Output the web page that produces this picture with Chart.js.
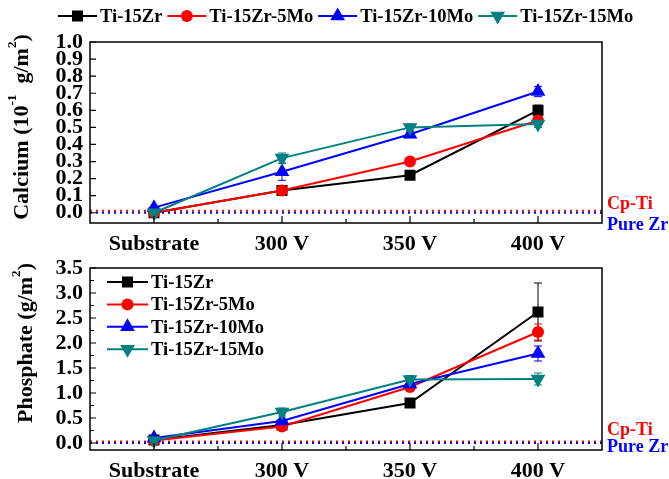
<!DOCTYPE html>
<html><head><meta charset="utf-8">
<script src="https://cdn.jsdelivr.net/npm/chart.js@4/dist/chart.umd.min.js"></script>
<style>
body{margin:0;background:#fff;width:669px;height:479px;overflow:hidden;position:relative}
#c1{position:absolute;left:0;top:0}
#c2{position:absolute;left:0;top:250px}
</style>
</head><body>
<canvas id="c1" width="669" height="250"></canvas>
<canvas id="c2" width="669" height="229"></canvas>
<script>
// ---------- data ----------
const categories = ['Substrate', '300 V', '350 V', '400 V'];
const seriesNames = ['Ti-15Zr', 'Ti-15Zr-5Mo', 'Ti-15Zr-10Mo', 'Ti-15Zr-15Mo'];

const calciumTi15Zr   = [0.00, 0.13, 0.22, 0.60];
const calcium5Mo      = [0.00, 0.13, 0.30, 0.54];
const calcium10Mo     = [0.03, 0.24, 0.46, 0.71];
const calcium15Mo     = [0.00, 0.32, 0.50, 0.52];
const calciumErrTi15Zr = [0.01, 0.01, 0.01, 0.03];
const calciumErr5Mo    = [0.01, 0.02, 0.01, 0.02];
const calciumErr10Mo   = [0.01, 0.05, 0.02, 0.03];
const calciumErr15Mo   = [0.01, 0.03, 0.02, 0.02];
const calciumTicks = [0.0, 0.1, 0.2, 0.3, 0.4, 0.5, 0.6, 0.7, 0.8, 0.9, 1.0];
const calciumRefCpTi = 0.012;
const calciumRefPureZr = 0.0;

const phosphateTi15Zr = [0.06, 0.36, 0.80, 2.62];
const phosphate5Mo    = [0.05, 0.33, 1.12, 2.22];
const phosphate10Mo   = [0.10, 0.44, 1.18, 1.79];
const phosphate15Mo   = [0.05, 0.62, 1.27, 1.28];
const phosphateErrTi15Zr = [0.02, 0.03, 0.05, 0.58];
const phosphateErr5Mo    = [0.03, 0.04, 0.05, 0.16];
const phosphateErr10Mo   = [0.03, 0.04, 0.05, 0.15];
const phosphateErr15Mo   = [0.02, 0.08, 0.08, 0.12];
const phosphateTicks = [0.0, 0.5, 1.0, 1.5, 2.0, 2.5, 3.0, 3.5];
const phosphateRefCpTi = 0.03;
const phosphateRefPureZr = 0.0;

// ---------- styles ----------
const FONT = "'Liberation Serif','Times New Roman',serif";
Chart.defaults.font.family = FONT;
Chart.defaults.font.weight = 'bold';
Chart.defaults.color = '#000';
const colors = ['#000000', '#ff0000', '#0000ff', '#008080'];
const markerKinds = ['rect', 'circle', 'triangle', 'triangleDown'];

function drawMarker(ctx, kind, x, y, color) {
  ctx.fillStyle = color;
  ctx.beginPath();
  if (kind === 'rect') ctx.rect(x - 5.5, y - 5.5, 11, 11);
  else if (kind === 'circle') ctx.arc(x, y, 6, 0, Math.PI * 2);
  else if (kind === 'triangle') { const r = 8.5; ctx.moveTo(x, y - r); ctx.lineTo(x + r * 0.866, y + r * 0.5); ctx.lineTo(x - r * 0.866, y + r * 0.5); ctx.closePath(); }
  else { const r = 8.5; ctx.moveTo(x, y + r); ctx.lineTo(x + r * 0.866, y - r * 0.5); ctx.lineTo(x - r * 0.866, y - r * 0.5); ctx.closePath(); }
  ctx.fill();
}

function richText(ctx, parts, cx, cy, rot, size) {
  ctx.save();
  ctx.translate(cx, cy);
  ctx.rotate(rot);
  let total = 0;
  parts.forEach(p => { ctx.font = 'bold ' + (p.sup ? size * 0.6 : size) + 'px ' + FONT; p.w = ctx.measureText(p.t).width; total += p.w; });
  let x = -total / 2;
  ctx.textBaseline = 'middle';
  ctx.textAlign = 'left';
  ctx.fillStyle = '#000';
  parts.forEach(p => {
    ctx.font = 'bold ' + (p.sup ? size * 0.6 : size) + 'px ' + FONT;
    ctx.fillText(p.t, x, p.sup ? -size * 0.42 : 0);
    x += p.w;
  });
  ctx.restore();
}

const deco = {
  id: 'deco',
  beforeDatasetsDraw(chart, args, o) {
    const { ctx, chartArea: a } = chart;
    const y = chart.scales.y;
    ctx.save();
    // reference lines
    o.refs.forEach(r => {
      const py = y.getPixelForValue(r.value);
      ctx.strokeStyle = r.color; ctx.lineWidth = 2; ctx.setLineDash([2, 4]);
      ctx.beginPath(); ctx.moveTo(a.left, py); ctx.lineTo(a.right, py); ctx.stroke();
    });
    ctx.setLineDash([]);
    // error bars
    chart.data.datasets.forEach((ds, i) => {
      const meta = chart.getDatasetMeta(i);
      ctx.strokeStyle = ds.borderColor; ctx.lineWidth = 1;
      ds.errors.forEach((e, j) => {
        const px = meta.data[j].x, v = ds.data[j];
        const t = y.getPixelForValue(v + e), b = y.getPixelForValue(v - e);
        ctx.beginPath();
        ctx.moveTo(px, t); ctx.lineTo(px, b);
        ctx.moveTo(px - 4, t); ctx.lineTo(px + 4, t);
        ctx.moveTo(px - 4, b); ctx.lineTo(px + 4, b);
        ctx.stroke();
      });
    });
    ctx.restore();
  },
  afterDraw(chart, args, o) {
    const { ctx, chartArea: a } = chart;
    const x = chart.scales.x, y = chart.scales.y;
    ctx.save();
    // frame
    ctx.strokeStyle = '#000'; ctx.lineWidth = 1.5;
    ctx.strokeRect(a.left, a.top, a.right - a.left, a.bottom - a.top);
    ctx.lineWidth = 1.2;
    ctx.beginPath();
    // y ticks
    o.yTicks.forEach(v => { const py = y.getPixelForValue(v); ctx.moveTo(a.left, py); ctx.lineTo(a.left + 6, py); });
    (o.yMinor || []).forEach(v => { const py = y.getPixelForValue(v); ctx.moveTo(a.left, py); ctx.lineTo(a.left + 4, py); });
    // x ticks
    const n = categories.length, bw = (a.right - a.left) / n;
    categories.forEach((c, i) => { const px = x.getPixelForValue(i); ctx.moveTo(px, a.bottom); ctx.lineTo(px, a.bottom - 7); });
    for (let i = 1; i < n; i++) { const px = a.left + bw * i; ctx.moveTo(px, a.bottom); ctx.lineTo(px, a.bottom - 4); }
    ctx.stroke();
    // right labels
    ctx.font = 'bold 18px ' + FONT; ctx.textAlign = 'left'; ctx.textBaseline = 'middle';
    o.sideLabels.forEach(s => { ctx.fillStyle = s.color; ctx.fillText(s.text, a.right + 5, s.y); });
    // legend
    const L = o.legend;
    ctx.font = 'bold ' + L.size + 'px ' + FONT;
    let lx = L.x, ly = L.y;
    seriesNames.forEach((name, i) => {
      ctx.strokeStyle = colors[i]; ctx.lineWidth = 2;
      ctx.beginPath(); ctx.moveTo(lx, ly); ctx.lineTo(lx + L.len, ly); ctx.stroke();
      drawMarker(ctx, markerKinds[i], lx + L.len / 2, ly, colors[i]);
      ctx.fillStyle = '#000';
      ctx.fillText(name, lx + L.len + 3, ly + 1);
      if (L.vertical) { ly += L.dy; }
      else { lx += L.len + 3 + ctx.measureText(name).width + 5; }
    });
    // y title
    richText(ctx, o.title.parts, o.title.x, o.title.y, -Math.PI / 2, 22);
    ctx.restore();
  }
};

function makeDatasets(vals, errs) {
  return vals.map((v, i) => ({
    label: seriesNames[i],
    data: v,
    errors: errs[i],
    borderColor: colors[i],
    backgroundColor: colors[i],
    borderWidth: 2,
    pointStyle: i === 0 ? 'rect' : (i === 1 ? 'circle' : 'triangle'),
    pointRotation: i === 3 ? 180 : 0,
    pointRadius: i === 0 ? 7.8 : (i === 1 ? 6 : 8.5),
    pointBorderWidth: 0,
    pointHoverRadius: 0,
    tension: 0,
    order: 4 - i
  }));
}

function makeOptions(cfg) {
  return {
    responsive: false,
    animation: false,
    events: [],
    layout: { padding: { left: 0, right: 67, top: cfg.top, bottom: 0 } },
    plugins: {
      legend: { display: false },
      tooltip: { enabled: false },
      deco: cfg.deco
    },
    scales: {
      x: {
        type: 'category',
        offset: true,
        grid: { display: false, drawTicks: false },
        border: { display: false },
        ticks: { font: { size: 22, weight: 'bold' }, padding: cfg.xPad, maxRotation: 0, autoSkip: false },
        afterFit: s => { s.height = cfg.xHeight; }
      },
      y: {
        type: 'linear',
        min: cfg.min, max: cfg.max,
        grid: { display: false, drawTicks: false },
        border: { display: false },
        ticks: {
          font: { size: 22, weight: 'bold', lineHeight: 1 },
          padding: 7, autoSkip: false,
          callback: v => v.toFixed(1)
        },
        afterBuildTicks: s => { s.ticks = cfg.ticks.map(v => ({ value: v })); },
        afterFit: s => { s.width = 90; }
      }
    }
  };
}

new Chart(document.getElementById('c1'), {
  type: 'line',
  data: {
    labels: categories,
    datasets: makeDatasets(
      [calciumTi15Zr, calcium5Mo, calcium10Mo, calcium15Mo],
      [calciumErrTi15Zr, calciumErr5Mo, calciumErr10Mo, calciumErr15Mo])
  },
  options: makeOptions({
    top: 42, xHeight: 27, xPad: 8, min: -0.06, max: 1.0, ticks: calciumTicks,
    deco: {
      refs: [{ value: calciumRefCpTi, color: '#ff0000' }, { value: calciumRefPureZr, color: '#0000ff' }],
      yTicks: calciumTicks,
      sideLabels: [{ text: 'Cp-Ti', color: '#ff0000', y: 204 }, { text: 'Pure Zr', color: '#0000ff', y: 225 }],
      legend: { x: 58, y: 16, len: 39, size: 18.5, vertical: false },
      title: { x: 22, y: 127, parts: [{ t: 'Calcium (10' }, { t: '-1', sup: true }, { t: '  g/m' }, { t: '2', sup: true }, { t: ')' }] }
    }
  }),
  plugins: [deco]
});

new Chart(document.getElementById('c2'), {
  type: 'line',
  data: {
    labels: categories,
    datasets: makeDatasets(
      [phosphateTi15Zr, phosphate5Mo, phosphate10Mo, phosphate15Mo],
      [phosphateErrTi15Zr, phosphateErr5Mo, phosphateErr10Mo, phosphateErr15Mo])
  },
  options: makeOptions({
    top: 17, xHeight: 29, xPad: 8, min: -0.14, max: 3.5, ticks: phosphateTicks,
    deco: {
      refs: [{ value: phosphateRefCpTi, color: '#ff0000' }, { value: phosphateRefPureZr, color: '#0000ff' }],
      yTicks: phosphateTicks,
      yMinor: [0.25, 0.75, 1.25, 1.75, 2.25, 2.75, 3.25],
      sideLabels: [{ text: 'Cp-Ti', color: '#ff0000', y: 180 }, { text: 'Pure Zr', color: '#0000ff', y: 197 }],
      legend: { x: 107, y: 32, len: 41, size: 18.5, vertical: true, dy: 22.4 },
      title: { x: 26, y: 93, parts: [{ t: 'Phosphate (g/m' }, { t: '2', sup: true }, { t: ')' }] }
    }
  }),
  plugins: [deco]
});
</script>
</body></html>
